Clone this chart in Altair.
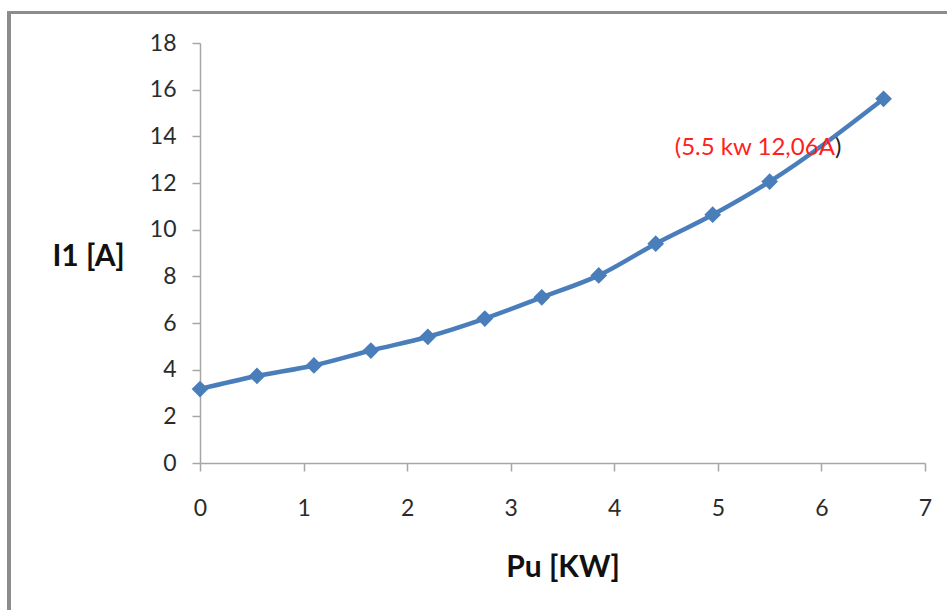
import altair as alt
import pandas as pd

# Output power of the motor (kW) and the measured stator current I1 (A)
pu_kw = [0, 0.55, 1.1, 1.65, 2.2, 2.75, 3.3, 3.85, 4.4, 4.95, 5.5, 6.6]
i1_a = [3.17, 3.73, 4.18, 4.82, 5.41, 6.19, 7.10, 8.04, 9.40, 10.64, 12.06, 15.61]

x_ticks = [0, 1, 2, 3, 4, 5, 6, 7]
y_ticks = [0, 2, 4, 6, 8, 10, 12, 14, 16, 18]

# Rated operating point that is called out on the curve
rated_index = 10
note_anchor_x = 6.13
note_anchor_y = 13.5

BLUE = "#4a7ebb"
AXIS_GREY = "#a6a6a6"
FONT = "Lato"

df = pd.DataFrame({"pu": pu_kw, "i1": i1_a})

rated_pu = pu_kw[rated_index]
rated_i = i1_a[rated_index]
note_text = "({} kw {}A".format(rated_pu, "{:.2f}".format(rated_i).replace(".", ","))
note_df = pd.DataFrame({"x": [note_anchor_x], "y": [note_anchor_y], "t": [note_text], "c": [")"]})

x_enc = alt.X(
    "pu:Q",
    scale=alt.Scale(domain=[0, 7], nice=False),
    axis=alt.Axis(
        values=x_ticks, format="d", grid=False, labelFlush=False,
        domainColor=AXIS_GREY, domainWidth=1.5,
        tickColor=AXIS_GREY, tickWidth=1.5, tickSize=8,
        labelFont=FONT, labelFontSize=23, labelColor="#2b2b2b", labelPadding=26,
        title="Pu [KW]", titleFont=FONT, titleFontSize=30, titleFontWeight="bold",
        titleColor="#111111", titleX=362.5, titleY=113, titleAlign="center",
        titleBaseline="alphabetic",
    ),
)
y_enc = alt.Y(
    "i1:Q",
    scale=alt.Scale(domain=[0, 18], nice=False),
    axis=alt.Axis(
        values=y_ticks, format="d", grid=False, labelFlush=False,
        domainColor=AXIS_GREY, domainWidth=1.5,
        tickColor=AXIS_GREY, tickWidth=1.5, tickSize=8,
        labelFont=FONT, labelFontSize=23, labelColor="#2b2b2b", labelPadding=16,
        title="I1 [A]", titleFont=FONT, titleFontSize=30, titleFontWeight="bold",
        titleColor="#111111", titleAngle=0, titleX=-112, titleY=222,
        titleAlign="center", titleBaseline="alphabetic",
    ),
)

base = alt.Chart(df).encode(x=x_enc, y=y_enc)

curve = base.mark_line(interpolate="monotone", strokeWidth=4.5, color=BLUE)
markers = base.mark_point(shape="diamond", filled=True, size=280, color=BLUE, opacity=1)

note_red = alt.Chart(note_df).mark_text(
    align="right", baseline="middle", font=FONT, fontSize=24, color="#ff2020"
).encode(x="x:Q", y="y:Q", text="t:N")
note_close = alt.Chart(note_df).mark_text(
    align="left", baseline="middle", font=FONT, fontSize=24, color="#222222"
).encode(x="x:Q", y="y:Q", text="c:N")

# Grey frame around the chart (left and top edges fall inside the page)
frame_left = alt.Chart(df).mark_rule(color="#8c8c8c", strokeWidth=3.5).encode(
    x=alt.value(-191), y=alt.value(-31), y2=alt.value(580)
)
frame_top = alt.Chart(df).mark_rule(color="#8c8c8c", strokeWidth=3).encode(
    x=alt.value(-193), x2=alt.value(760), y=alt.value(-30.5)
)

chart = (
    alt.layer(frame_left, frame_top, curve, markers, note_red, note_close)
    .properties(
        width=725,
        height=420,
        autosize=alt.AutoSizeParams(type="none"),
        padding={"left": 200, "top": 43, "right": 22, "bottom": 147},
        background="white",
    )
    .configure_view(stroke=None)
)

chart.save("out.html", embed_options={"renderer": "svg", "actions": False})
